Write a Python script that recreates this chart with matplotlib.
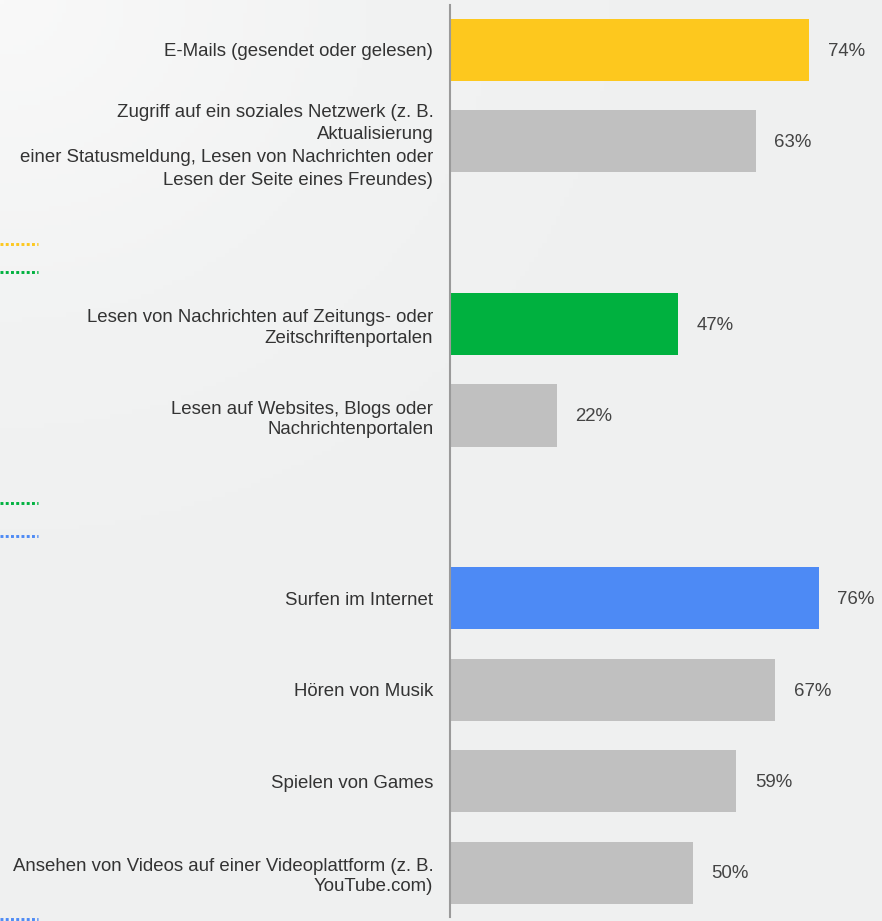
import matplotlib.pyplot as plt
import matplotlib.transforms as mtransforms
import numpy as np
from matplotlib.colors import LinearSegmentedColormap

plt.rcParams['font.family'] = ['Liberation Sans', 'DejaVu Sans']

# categories, slot positions (empty slots between the groups) and values
labels = [
    'E-Mails (gesendet oder gelesen)',
    'Zugriff auf ein soziales Netzwerk (z. B.\nAktualisierung\n'
    'einer Statusmeldung, Lesen von Nachrichten oder\nLesen der Seite eines Freundes)',
    'Lesen von Nachrichten auf Zeitungs- oder\nZeitschriftenportalen',
    'Lesen auf Websites, Blogs oder\nNachrichtenportalen',
    'Surfen im Internet',
    'Hören von Musik',
    'Spielen von Games',
    'Ansehen von Videos auf einer Videoplattform (z. B.\nYouTube.com)',
]
slots = [0, 1, 3, 4, 6, 7, 8, 9]
werte = [74, 63, 47, 22, 76, 67, 59, 50]
farben = ['#FDC81E', '#C0C0C0', '#00B13F', '#C0C0C0',
          '#4D8AF5', '#C0C0C0', '#C0C0C0', '#C0C0C0']

# dotted markers at the left edge (cut-off brackets)
marker_y = [2.12, 2.43, 4.96, 5.32, 9.51]
marker_farbe = ['#FDC81E', '#00B13F', '#00B13F', '#4D8AF5', '#4D8AF5']

W, H = 882, 921
fig = plt.figure(figsize=(W / 100, H / 100), dpi=100, facecolor='#f2f3f3')

# leichter Verlauf im Hintergrund
bg = fig.add_axes([0, 0, 1, 1], zorder=-1)
gx, gy = np.meshgrid(np.linspace(0, 1, 200), np.linspace(0, 1, 200))
verlauf = np.clip(np.hypot(gx, gy * 1.2) * 1.2, 0, 1)
cmap = LinearSegmentedColormap.from_list('bg', ['#f9f9f9', '#f2f3f3', '#eff0f0'])
bg.imshow(verlauf, cmap=cmap, aspect='auto', extent=[0, 1, 1, 0], origin='upper')
bg.set_axis_off()

ax = fig.add_axes([450 / W, 4 / H, 432 / W, 912 / H])
ax.set_facecolor('none')

ax.barh(slots, werte, height=0.68, color=farben)
ax.set_xlim(0, 432 / 4.85)
ax.set_ylim(9.486, -0.492)

for s, v in zip(slots, werte):
    ax.annotate(f'{v}%', (v, s), xytext=(13.5, -1), textcoords='offset points',
                va='center', ha='left', fontsize=13.4, color='#444444')

ax.set_yticks(slots)
ax.set_yticklabels(labels, fontsize=13.4, color='#333333')
for t in ax.get_yticklabels():
    t.set_linespacing(1.43 if t.get_text().count('\n') > 1 else 1.26)
ax.tick_params(axis='y', length=0, pad=12)
ax.set_xticks([])
for side in ['top', 'right', 'bottom']:
    ax.spines[side].set_visible(False)
ax.spines['left'].set_color('#9a9a9a')
ax.spines['left'].set_linewidth(1.5)

trans = mtransforms.blended_transform_factory(fig.transFigure, ax.transData)
for y, c in zip(marker_y, marker_farbe):
    ax.plot([0, 38 / W], [y, y], transform=trans, color=c, lw=2.1,
            linestyle=(0, (1, 0.8)), clip_on=False)

fig.savefig('out.png', dpi=100, facecolor=fig.get_facecolor())
